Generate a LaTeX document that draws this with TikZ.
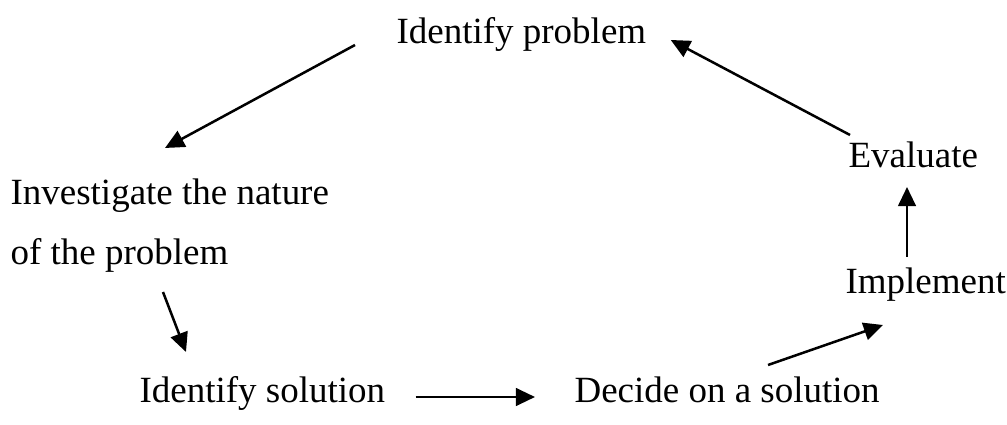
\documentclass[tikz,border=0pt]{standalone}
\usepackage{fontspec}
\setmainfont{Liberation Serif}
\usetikzlibrary{arrows.meta}
\tikzset{
    stage/.style={anchor=base west, inner sep=0pt, font=\fontsize{12.5}{20.6}\selectfont},
    flow/.style={line width=0.85pt, -{Triangle[length=6.5pt,width=6pt]}}
}
\begin{document}
\begin{tikzpicture}[x=0.338pt, y=-0.338pt]
    \useasboundingbox (0,0) rectangle (1007,425);
    % the stages of the cycle
    \node[stage] (prob) at (396,44) {Identify problem};
    \node[stage,align=left] (inv) at (10,265) {Investigate the nature\\of the problem};
    \node[stage] (sol) at (139,402) {Identify solution};
    \node[stage] (dec) at (574,402) {Decide on a solution};
    \node[stage] (impl) at (845,293) {Implement};
    \node[stage] (eval) at (848,168) {Evaluate};
    % arrows between the stages
    \draw[flow] ([shift={(-41,1)}]prob.base west) -- ([shift={(155,-117)}]inv.base west);
    \draw[flow] ([shift={(153,27)}]inv.base west) -- ([shift={(47,-50)}]sol.base west);
    \draw[flow] ([shift={(30,-5)}]sol.base east) -- ([shift={(-39,-5)}]dec.base west);
    \draw[flow] ([shift={(194,-37)}]dec.base west) -- ([shift={(38,32)}]impl.base west);
    \draw[flow] ([shift={(62,-36)}]impl.base west) -- ([shift={(59,19)}]eval.base west);
    \draw[flow] ([shift={(2,-33)}]eval.base west) -- ([shift={(24,-4)}]prob.base east);
\end{tikzpicture}
\end{document}
